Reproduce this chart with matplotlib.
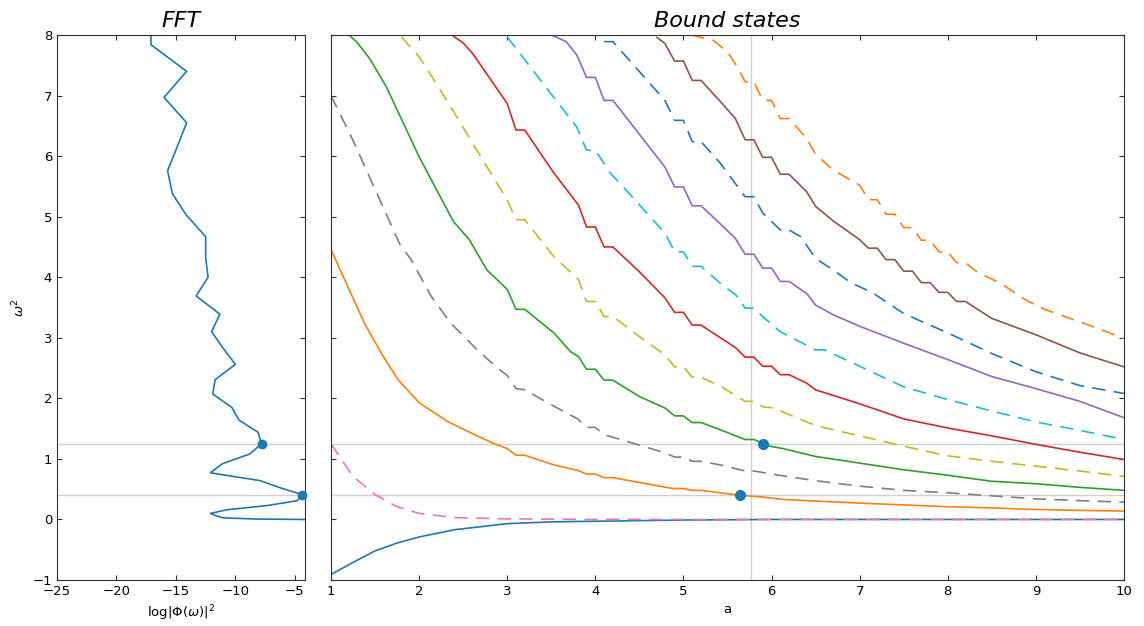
import matplotlib
matplotlib.use("Agg")
import matplotlib.pyplot as plt

# FFT of the signal: log power vs omega^2
fft_w2 = [0.0, 0.006, 0.026, 0.058, 0.10, 0.16, 0.23, 0.31, 0.41, 0.52, 0.64, 0.77, 0.92,
          1.08, 1.25, 1.44, 1.64, 1.85, 2.07, 2.31, 2.56, 2.82, 3.10, 3.39, 3.69, 4.0,
          4.33, 4.67, 5.02, 5.38, 5.76, 6.15, 6.55, 6.97, 7.40, 7.84, 8.29]
fft_logp = [-4.15, -8.2, -11.0, -11.6, -12.1, -10.7, -7.3, -4.8, -4.38, -6.2, -7.9, -12.1, -11.1,
            -8.8, -7.8, -8.1, -9.7, -10.3, -11.9, -11.7, -10.0, -11.0, -12.0, -11.3, -13.3, -12.3,
            -12.5, -12.5, -14.1, -15.3, -15.7, -14.9, -14.1, -16.0, -14.1, -17.1, -17.1]
peak_logp = [-7.8, -4.38]
peak_w2 = [1.25, 0.41]

# bound state eigenvalues vs a (even states solid, odd states dashed)
a0 = [1.0, 1.25, 1.5, 1.75, 2.0, 2.4, 3.0, 3.5, 4.0, 5.0, 6.0, 7.0, 8.0, 9.0, 10.0]
w0 = [-0.91, -0.71, -0.52, -0.39, -0.29, -0.17, -0.07, -0.04, -0.03, -0.01, 0.0, 0.0, 0.0, 0.0, 0.0]

a1 = [1.0, 1.25, 1.5, 1.75, 2.0, 2.4, 3.0, 4.0, 5.0, 6.0, 7.0, 8.0, 9.0, 10.0]
w1 = [1.25, 0.71, 0.41, 0.21, 0.10, 0.03, 0.01, 0.0, 0.0, 0.0, 0.0, 0.0, 0.0, 0.0]

a2 = [1.0, 1.19, 1.38, 1.57, 1.76, 2.0, 2.32, 2.63, 2.84, 3.0, 3.1, 3.2, 3.53, 3.8, 3.9, 4.0,
      4.1, 4.2, 4.88, 5.0, 5.1, 5.2, 5.64, 5.9, 6.13, 6.55, 7.0, 7.5, 8.0, 8.5, 9.0, 9.5, 10.0]
w2 = [4.46, 3.85, 3.24, 2.75, 2.31, 1.93, 1.62, 1.40, 1.26, 1.17, 1.06, 1.06, 0.90, 0.81, 0.75, 0.75,
      0.69, 0.69, 0.51, 0.51, 0.48, 0.48, 0.40, 0.37, 0.33, 0.30, 0.27, 0.24, 0.21, 0.19, 0.165, 0.15, 0.137]

a3 = [1.0, 1.25, 1.52, 1.78, 1.91, 2.14, 2.36, 2.66, 2.89, 3.0, 3.1, 3.2, 3.53, 3.8, 3.9, 4.0, 4.1,
      4.47, 4.79, 4.9, 5.0, 5.1, 5.2, 5.42, 5.7, 5.8, 6.17, 6.55, 7.0, 7.5, 8.0, 8.5, 9.0, 9.5, 10.0]
w3 = [7.0, 6.26, 5.39, 4.55, 4.29, 3.68, 3.24, 2.80, 2.50, 2.38, 2.16, 2.14, 1.87, 1.66, 1.52, 1.52, 1.40,
      1.24, 1.10, 1.03, 1.03, 0.96, 0.96, 0.90, 0.80, 0.80, 0.71, 0.63, 0.55, 0.48, 0.44, 0.39, 0.34, 0.31, 0.285]

a4 = [1.2, 1.29, 1.44, 1.63, 2.0, 2.39, 2.57, 2.77, 3.0, 3.1, 3.2, 3.53, 3.72, 3.81, 3.9, 4.0, 4.1,
      4.2, 4.5, 4.79, 4.9, 5.0, 5.1, 5.2, 5.42, 5.7, 5.8, 5.98, 6.13, 6.5, 7.0, 7.5, 8.0, 8.5, 9.0,
      9.5, 10.0]
w4 = [8.0, 7.89, 7.61, 7.14, 5.99, 4.92, 4.62, 4.12, 3.80, 3.47, 3.47, 3.08, 2.77, 2.69, 2.48, 2.48, 2.30,
      2.30, 2.03, 1.84, 1.71, 1.71, 1.60, 1.60, 1.48, 1.32, 1.32, 1.21, 1.17, 1.04, 0.93, 0.82, 0.73, 0.63, 0.59,
      0.53, 0.48]

a5 = [1.8, 2.0, 2.23, 2.61, 2.91, 3.0, 3.1, 3.2, 3.53, 3.81, 3.9, 4.0, 4.1, 4.2, 4.5, 4.79, 4.9,
      5.0, 5.1, 5.2, 5.42, 5.7, 5.8, 5.9, 6.03, 6.2, 6.5, 7.0, 7.5, 8.0, 8.5, 9.0, 9.5, 10.0]
w5 = [7.97, 7.64, 7.12, 6.21, 5.49, 5.28, 4.95, 4.95, 4.34, 3.96, 3.60, 3.60, 3.35, 3.35, 3.02, 2.72, 2.52,
      2.52, 2.35, 2.35, 2.20, 1.95, 1.95, 1.86, 1.84, 1.73, 1.55, 1.38, 1.21, 1.05, 0.96, 0.88, 0.80, 0.71]

a6 = [2.39, 2.5, 2.61, 3.0, 3.1, 3.2, 3.53, 3.81, 3.9, 4.0, 4.1, 4.2, 4.5, 4.79, 4.9, 5.0, 5.1,
      5.2, 5.42, 5.59, 5.7, 5.8, 5.9, 6.0, 6.1, 6.2, 6.4, 6.5, 7.0, 7.5, 8.0, 8.5, 9.0, 9.5, 10.0]
w6 = [7.98, 7.87, 7.69, 6.87, 6.43, 6.43, 5.72, 5.19, 4.83, 4.83, 4.50, 4.50, 4.09, 3.66, 3.42, 3.42, 3.21,
      3.21, 3.00, 2.84, 2.68, 2.68, 2.53, 2.53, 2.39, 2.39, 2.25, 2.14, 1.91, 1.66, 1.51, 1.38, 1.24, 1.11, 0.99]

a7 = [3.0, 3.38, 3.79, 3.9, 4.0, 4.17, 4.28, 4.79, 4.9, 5.0, 5.1, 5.2, 5.42, 5.6, 5.7, 5.8, 5.9,
      6.1, 6.5, 6.6, 7.0, 7.5, 8.0, 8.5, 9.0, 9.5, 10.0]
w7 = [7.97, 7.25, 6.48, 6.10, 6.10, 5.72, 5.55, 4.73, 4.42, 4.42, 4.18, 4.18, 3.90, 3.70, 3.49, 3.49, 3.35,
      3.10, 2.80, 2.80, 2.53, 2.19, 1.98, 1.79, 1.61, 1.47, 1.32]

a8 = [3.5, 3.67, 3.79, 3.9, 4.0, 4.1, 4.2, 4.79, 4.9, 5.0, 5.1, 5.2, 5.42, 5.59, 5.7, 5.8, 5.9,
      6.0, 6.1, 6.2, 6.4, 6.5, 6.7, 7.0, 7.5, 8.0, 8.5, 9.0, 9.5, 10.0]
w8 = [8.0, 7.89, 7.67, 7.30, 7.30, 6.92, 6.92, 5.82, 5.49, 5.49, 5.18, 5.18, 4.88, 4.64, 4.38, 4.38, 4.15,
      4.15, 3.93, 3.93, 3.73, 3.54, 3.38, 3.19, 2.91, 2.64, 2.36, 2.16, 1.95, 1.68]

a9 = [4.1, 4.2, 4.79, 4.9, 5.0, 5.1, 5.2, 5.42, 5.7, 5.8, 5.9, 6.1, 6.2, 6.33, 6.5, 6.7, 6.9,
      7.15, 7.5, 8.0, 8.5, 9.0, 9.5, 10.0]
w9 = [7.89, 7.89, 6.92, 6.59, 6.59, 6.24, 6.24, 5.88, 5.33, 5.33, 5.06, 4.78, 4.78, 4.67, 4.31, 4.12, 3.91,
      3.74, 3.40, 3.08, 2.74, 2.44, 2.21, 2.08]

a10 = [4.7, 4.79, 4.9, 5.0, 5.1, 5.2, 5.42, 5.59, 5.7, 5.8, 5.9, 6.0, 6.1, 6.2, 6.4, 6.5, 6.7,
       7.0, 7.1, 7.2, 7.3, 7.4, 7.5, 7.6, 7.7, 7.8, 7.9, 8.0, 8.1, 8.2, 8.5, 9.0, 9.5, 10.0]
w10 = [7.96, 7.86, 7.57, 7.57, 7.25, 7.25, 6.90, 6.62, 6.27, 6.27, 5.98, 5.98, 5.70, 5.70, 5.41, 5.17, 4.93,
       4.62, 4.48, 4.48, 4.29, 4.29, 4.10, 4.10, 3.91, 3.91, 3.75, 3.75, 3.60, 3.60, 3.32, 3.05, 2.75, 2.52]

a11 = [5.09, 5.34, 5.5, 5.6, 5.7, 5.8, 5.9, 6.0, 6.1, 6.2, 6.4, 6.5, 6.7, 7.0, 7.1, 7.2, 7.3, 7.4,
       7.5, 7.6, 7.7, 7.8, 7.9, 8.0, 8.1, 8.2, 8.35, 8.6, 8.89, 9.1, 9.6, 10.0]
w11 = [8.0, 7.91, 7.72, 7.5, 7.23, 7.23, 6.92, 6.92, 6.62, 6.62, 6.29, 6.03, 5.77, 5.52, 5.28, 5.28, 5.04, 5.04,
       4.82, 4.82, 4.61, 4.61, 4.42, 4.42, 4.24, 4.24, 4.07, 3.90, 3.62, 3.47, 3.21, 2.99]

even_states = [(a0, w0), (a2, w2), (a4, w4), (a6, w6), (a8, w8), (a10, w10)]
odd_states = [(a1, w1), (a3, w3), (a5, w5), (a7, w7), (a9, w9), (a11, w11)]

a_cut = 5.77
match_a = [5.9, 5.64]
match_w2 = [1.25, 0.41]

plt.rcParams['font.size'] = 9.5
plt.rcParams['axes.edgecolor'] = '#333333'

fig = plt.figure(figsize=(11.44, 6.26), dpi=100)
ax1 = fig.add_axes([0.0498, 0.0735, 0.2168, 0.8706])
ax2 = fig.add_axes([0.2893, 0.0735, 0.6932, 0.8706])

# left panel: FFT
for w in peak_w2:
    ax1.axhline(w, color='#d0d0d0', lw=1, zorder=1)
ax1.plot(fft_logp, fft_w2, color='C0', lw=1.2, zorder=2)
ax1.plot(peak_logp, peak_w2, 'o', color='C0', ms=6, zorder=3, clip_on=False)
ax1.set_xlim(-25, -4.15)
ax1.set_ylim(-1, 8)
ax1.set_xticks([-25, -20, -15, -10, -5])
ax1.set_xlabel(r'$\log|\Phi(\omega)|^2$')
ax1.set_ylabel(r'$\omega^2$')
ax1.set_title('FFT', fontsize=16, style='italic')

# right panel: bound states
for w in match_w2:
    ax2.axhline(w, color='#d0d0d0', lw=1, zorder=1)
ax2.axvline(a_cut, color='#d0d0d0', lw=1, zorder=1)
for i, (a, w) in enumerate(even_states):
    ax2.plot(a, w, color='C%d' % (i % 10), lw=1.2, zorder=2)
for i, (a, w) in enumerate(odd_states):
    line, = ax2.plot(a, w, color='C%d' % ((i + 6) % 10), lw=1.2, zorder=2)
    line.set_dashes((8, 5))
ax2.plot(match_a, match_w2, 'o', color='C0', ms=7, zorder=3)
ax2.set_xlim(1, 10)
ax2.set_ylim(-1, 8)
ax2.set_yticklabels([])
ax2.set_xlabel('a')
ax2.set_title('Bound states', fontsize=16, style='italic')

for ax in (ax1, ax2):
    ax.tick_params(direction='in', top=True, right=True, colors='#333333', labelcolor='black')

fig.savefig('out.png', dpi=100)
